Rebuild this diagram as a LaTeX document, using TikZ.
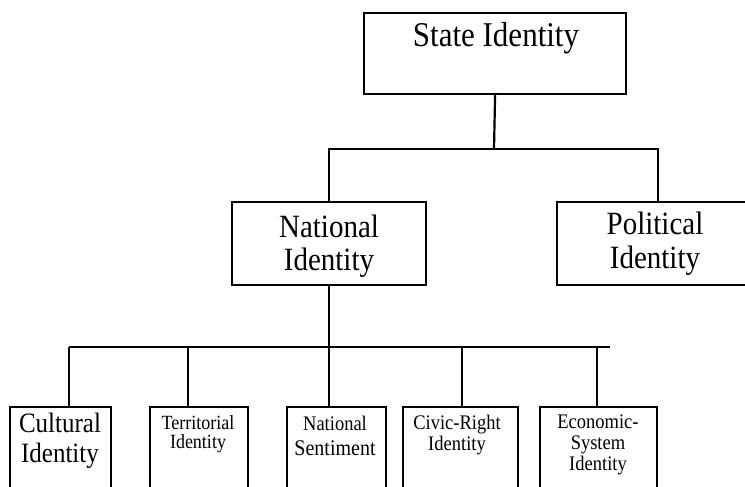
\documentclass[tikz,border=0pt]{standalone}
\usepackage{fontspec}
\usepackage{graphicx}
\setmainfont{Liberation Serif}
\newcommand{\boxtext}[3]{\scalebox{1}[1.12]{\fontsize{#1}{#2}\selectfont\begin{tabular}[t]{@{}c@{}}#3\end{tabular}}}
\begin{document}
\begin{tikzpicture}[x=1pt,y=-1pt,
  box/.style={draw,line width=2.2pt,inner sep=0pt,anchor=north west},
  lbl/.style={anchor=base,inner sep=0pt},
  conn/.style={line width=2.2pt}]
\useasboundingbox (0,0) rectangle (745,487);
\fill[white] (0,0) rectangle (745,487);
\clip (0,0) rectangle (745,487);
% boxes
\node[box,minimum width=262pt,minimum height=81pt] (state) at (363,12) {};
\node[box,minimum width=194pt,minimum height=83pt] (nat) at (231,201) {};
\node[box,minimum width=202pt,minimum height=83pt] (pol) at (556,201) {};
\node[box,minimum width=101pt,minimum height=110pt] (cul) at (9,406) {};
\node[box,minimum width=98pt,minimum height=110pt] (ter) at (149,406) {};
\node[box,minimum width=99pt,minimum height=110pt] (sen) at (286,406) {};
\node[box,minimum width=115pt,minimum height=110pt] (civ) at (402,406) {};
\node[box,minimum width=117pt,minimum height=110pt] (eco) at (539,406) {};
% labels
\node[lbl] (stateT) at (496,47) {\boxtext{31}{31}{State Identity}};
\node[lbl] (natT) at (329,237) {\boxtext{29}{29.5}{National\\Identity}};
\node[lbl] (polT) at (655,234) {\boxtext{29}{30.5}{Political\\Identity}};
\node[lbl] (culT) at (60,432) {\boxtext{25}{26.8}{Cultural\\Identity}};
\node[lbl] (terT) at (198,429) {\boxtext{18}{16.5}{Territorial\\Identity}};
\node[lbl] (senT) at (335,430) {\boxtext{18.5}{23.2}{National\\{\fontsize{20}{23.2}\selectfont Sentiment}}};
\node[lbl] (civT) at (457,429) {\boxtext{18.5}{19.6}{Civic-Right\\Identity}};
\node[lbl] (ecoT) at (598,428) {\boxtext{18.5}{18.8}{Economic-\\System\\Identity}};
% upper connectors
\coordinate (j1) at (494,149);
\draw[conn] (state.south) -- (j1);
\draw[conn] (nat.north) -- (nat.north |- j1) -- (pol.north |- j1) -- (pol.north);
% lower connectors
\coordinate (busL) at (69,347);
\coordinate (busR) at (610,347);
\coordinate (s1) at (69,347);
\coordinate (s2) at (188,347);
\coordinate (s3) at (nat.south |- busL);
\coordinate (s4) at (462,347);
\coordinate (s5) at (597,347);
\draw[conn] (nat.south) -- (s3);
\draw[conn] (busL) -- (busR);
\draw[conn] (s1) -- (s1 |- cul.north);
\draw[conn] (s2) -- (s2 |- ter.north);
\draw[conn] (s3) -- (s3 |- sen.north);
\draw[conn] (s4) -- (s4 |- civ.north);
\draw[conn] (s5) -- (s5 |- eco.north);
\end{tikzpicture}
\end{document}
